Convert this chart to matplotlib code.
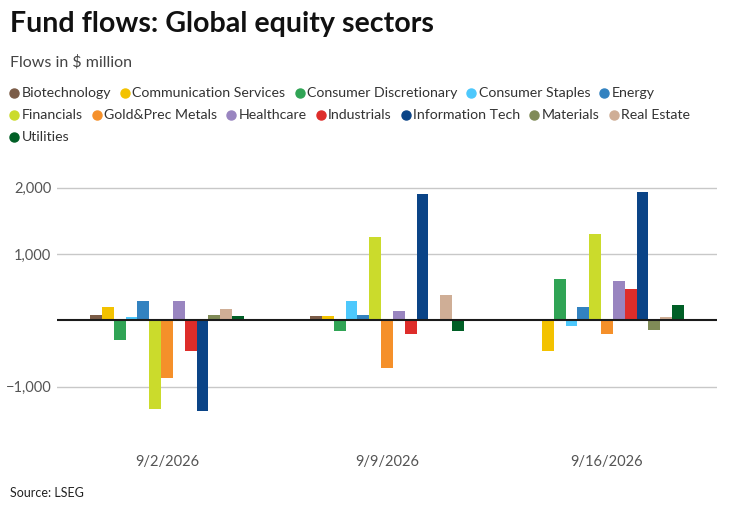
import numpy as np
import matplotlib.pyplot as plt

plt.rcParams['font.family'] = ['Lato', 'DejaVu Sans']

# data ($ million)
dates = ['9/2/2026', '9/9/2026', '9/16/2026']
sectors = ['Biotechnology', 'Communication Services', 'Consumer Discretionary',
           'Consumer Staples', 'Energy', 'Financials', 'Gold&Prec Metals',
           'Healthcare', 'Industrials', 'Information Tech', 'Materials',
           'Real Estate', 'Utilities']
colors = ['#7b5c47', '#f3c200', '#30a455', '#4dc8fc', '#3282c0', '#cbdb2c',
          '#f5902a', '#9985c0', '#de2d2a', '#0a4487', '#808b57', '#cfae96',
          '#005f26']
flows = {
    'Biotechnology':          [80, 65, 0],
    'Communication Services': [200, 65, -460],
    'Consumer Discretionary': [-290, -155, 625],
    'Consumer Staples':       [50, 290, -80],
    'Energy':                 [290, 80, 200],
    'Financials':             [-1330, 1255, 1300],
    'Gold&Prec Metals':       [-865, -715, -200],
    'Healthcare':             [290, 140, 595],
    'Industrials':            [-470, -200, 470],
    'Information Tech':       [-1360, 1905, 1935],
    'Materials':              [80, 0, -140],
    'Real Estate':            [170, 380, 50],
    'Utilities':              [65, -155, 230],
}
legend_rows = [sectors[:5], sectors[5:12], sectors[12:]]

fig = plt.figure(figsize=(7.33, 5.07), dpi=100)
ax = fig.add_axes([0.0778, 0.172, 0.9004, 0.484])

x = np.arange(len(dates))
n = len(sectors)
group_w = 0.7
bw = group_w / n
for i, s in enumerate(sectors):
    offs = -group_w / 2 + bw * (i + 0.5)
    ax.bar(x + offs, flows[s], width=bw, color=colors[i], linewidth=0, zorder=3)

ax.set_xlim(-0.5, 2.5)
ax.set_ylim(-1500, 2200)
ax.set_yticks([-1000, 1000, 2000])
ax.set_yticklabels(['\u22121,000', '1,000', '2,000'])
ax.grid(axis='y', color='#c8c8c8', linewidth=1, zorder=0)
ax.axhline(0, color='#1a1a1a', linewidth=1.5, zorder=4)
ax.set_xticks(x)
ax.set_xticklabels(dates)
ax.tick_params(axis='both', length=0, labelsize=10.5, labelcolor='#555555')
ax.tick_params(axis='y', pad=4)
ax.tick_params(axis='x', pad=25)
for sp in ax.spines.values():
    sp.set_visible(False)

fig.text(10 / 733, 1 - 24 / 507, 'Fund flows: Global equity sectors', fontsize=20.6,
         fontweight='bold', color='#111111', va='center', ha='left')
fig.text(10 / 733, 1 - 62 / 507, 'Flows in $ million', fontsize=11.5,
         color='#444444', va='center', ha='left')
fig.text(10 / 733, 1 - 493 / 507, 'Source: LSEG', fontsize=9,
         color='#222222', va='center', ha='left')

# legend laid out by hand, wrapped like the reference
renderer = fig.canvas.get_renderer()
row_y = [93, 115, 137]
for r, row in enumerate(legend_rows):
    px = 10
    for s in row:
        c = colors[sectors.index(s)]
        fig.lines.append(plt.Line2D([(px + 4) / 733], [1 - row_y[r] / 507],
                                    marker='o', markersize=6.5, color=c,
                                    linestyle='none', transform=fig.transFigure))
        t = fig.text((px + 11.5) / 733, 1 - row_y[r] / 507, s, fontsize=10.2,
                     color='#333333', va='center', ha='left')
        w = t.get_window_extent(renderer).width
        px = px + 11.5 + w + 10

fig.savefig('out.png', dpi=100)
